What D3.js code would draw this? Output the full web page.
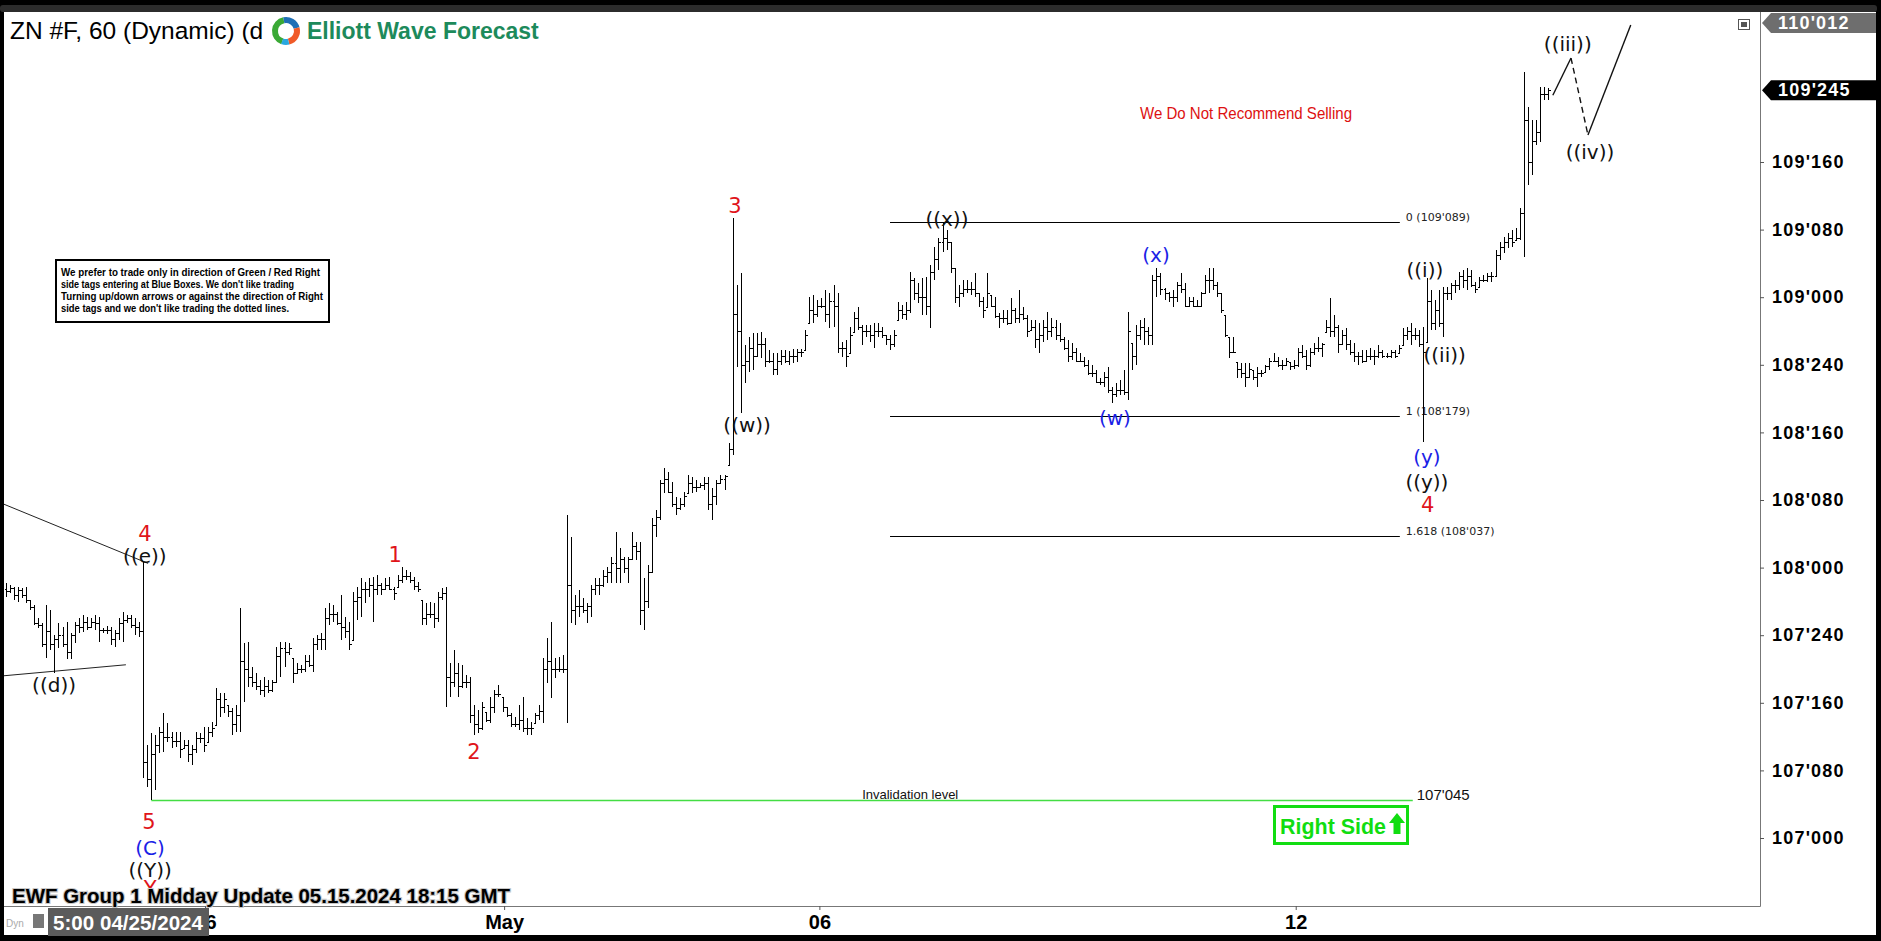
<!DOCTYPE html>
<html><head><meta charset="utf-8">
<script src="https://cdn.jsdelivr.net/npm/d3@7"></script>
<style>
html,body{margin:0;padding:0;background:#000;}
svg{display:block;}
</style></head><body>
<svg id="c" width="1881" height="941"></svg>
<script>
// Prices are in 32nds above 107'000 (e.g. 24.5 = 107'245, 72.9 = 109'089)
const highs = [30.2,29.9,29.7,29.7,29.6,29.7,28.2,27.6,26.0,25.4,27.6,27.0,24.0,25.4,25.0,25.6,24.3,25.6,26.0,26.4,26.2,26.0,26.4,26.2,24.9,25.1,25.0,24.6,26.0,26.7,26.4,26.4,26.0,25.6,32.7,11.0,12.4,12.2,13.1,14.8,13.6,12.5,12.5,12.5,11.6,11.6,11.0,12.5,12.4,13.1,13.1,13.7,17.8,17.2,17.2,15.7,15.4,15.7,27.2,23.1,23.2,20.2,19.5,18.7,19.1,18.7,18.7,22.6,23.2,23.2,23.1,21.3,20.7,20.5,21.7,21.7,23.7,24.0,24.3,27.2,27.8,27.6,26.7,28.8,26.2,25.6,29.1,29.7,30.8,30.3,30.8,30.9,31.1,30.2,30.8,30.9,29.7,31.1,32.1,31.7,31.5,30.9,30.3,28.2,27.8,27.9,27.8,29.1,29.6,29.7,20.7,22.2,20.7,20.5,19.3,19.1,15.7,15.1,16.1,14.9,16.7,17.5,18.1,16.7,15.5,14.8,14.3,15.7,16.7,14.2,13.7,14.8,15.7,21.3,23.7,25.6,21.3,21.4,21.7,38.2,35.6,28.8,29.3,28.4,27.8,29.9,30.8,30.8,31.7,32.1,33.3,36.2,34.3,33.3,33.3,36.2,35.0,35.0,30.8,32.3,37.9,38.8,42.4,43.8,43.3,42.1,40.4,40.2,40.9,43.0,42.7,42.4,42.0,42.7,42.7,41.4,42.4,43.0,43.0,46.7,73.4,65.4,66.9,58.3,59.3,59.8,59.8,59.9,59.2,57.8,57.4,57.4,57.8,57.8,57.6,57.9,57.9,57.9,60.1,64.0,64.3,63.7,63.9,64.9,64.5,65.4,64.5,58.7,58.9,60.5,62.2,62.8,60.7,60.7,60.7,60.9,60.9,60.5,59.5,59.5,60.1,63.4,63.1,63.4,67.0,66.3,65.7,66.3,66.4,67.8,69.9,71.0,72.9,72.0,70.5,67.5,65.4,66.0,66.0,65.8,66.9,64.5,64.0,66.9,64.3,64.0,62.1,62.5,62.5,63.9,62.7,64.9,62.8,61.9,61.3,61.3,60.9,61.3,62.2,61.5,61.3,60.9,59.3,58.9,58.6,58.0,57.4,56.9,56.6,56.0,55.4,54.4,55.1,55.7,53.4,53.8,54.2,55.4,62.2,58.6,60.7,61.3,61.5,60.5,66.6,67.5,66.9,65.1,64.6,64.9,65.8,66.9,65.7,64.0,64.0,63.7,64.6,66.6,67.5,67.5,65.8,64.5,61.9,59.3,59.3,56.3,56.2,56.2,56.2,55.4,55.7,55.4,56.0,56.8,57.4,56.9,56.6,56.8,56.3,56.6,58.0,58.3,57.8,58.0,58.6,59.3,58.6,61.3,63.9,61.9,60.7,60.1,60.4,58.9,58.6,57.5,57.8,57.8,58.0,57.8,58.3,57.8,57.4,57.8,57.8,58.3,60.4,60.5,60.9,60.4,60.1,60.5,66.3,64.9,63.7,64.9,65.2,65.2,65.7,66.0,67.0,67.2,67.5,67.2,65.8,66.4,66.6,66.9,67.0,69.6,70.5,71.1,71.6,72.0,72.2,74.6,90.7,86.5,85.0,85.0,88.9,88.9,88.8];
const lows = [28.5,29.0,28.2,27.9,28.4,27.8,27.0,25.2,24.9,22.6,21.3,22.2,19.5,22.5,22.6,21.2,21.2,23.1,24.3,24.4,24.6,24.9,24.6,23.2,24.3,24.1,22.8,22.6,23.4,23.2,25.4,24.9,24.0,23.8,7.1,6.0,4.5,5.7,10.1,10.2,11.4,10.7,10.8,9.5,10.7,9.0,8.6,10.1,11.2,10.2,11.4,12.0,13.4,14.3,14.8,14.3,12.2,12.5,12.5,16.1,17.9,17.9,17.5,16.9,16.7,17.2,17.3,18.3,19.1,20.2,21.7,18.3,19.5,19.5,19.6,20.2,19.6,22.2,22.2,22.2,25.2,25.6,25.2,23.4,23.7,22.2,23.4,25.8,26.2,27.8,28.5,25.6,28.8,28.8,29.3,29.3,28.2,29.7,30.2,30.5,30.2,29.3,29.1,25.2,25.2,26.0,24.9,25.6,28.2,15.5,16.7,17.9,16.7,17.8,17.8,13.6,12.2,12.4,12.8,13.7,13.6,14.8,16.7,14.9,14.3,13.1,13.1,12.8,12.5,12.2,12.2,13.6,14.0,13.6,18.3,16.6,18.9,19.6,19.5,13.6,25.4,25.2,26.2,26.6,25.4,26.2,28.8,28.8,29.7,30.2,30.2,30.2,30.2,31.4,30.2,32.9,32.9,25.2,24.6,27.2,31.4,35.6,37.6,40.8,40.8,39.2,38.2,38.8,39.2,40.8,40.8,40.9,41.4,41.2,38.8,37.6,39.4,42.0,41.2,44.1,45.3,55.7,50.3,53.8,55.1,55.4,56.9,56.8,55.7,56.2,54.8,54.8,56.0,56.2,56.0,56.2,56.3,56.9,57.8,60.9,60.9,61.7,62.7,61.1,60.4,60.5,57.4,56.9,55.7,57.4,59.9,60.1,58.3,59.3,58.7,58.0,59.3,59.2,58.3,57.8,58.1,61.3,61.4,61.3,62.1,63.7,63.3,61.9,61.9,60.4,66.0,67.2,69.3,69.6,66.9,63.3,62.8,64.0,64.5,64.3,64.0,62.8,61.5,62.8,62.8,61.5,60.4,60.9,60.7,60.9,60.9,60.9,61.3,59.3,60.1,58.0,57.4,58.7,58.9,59.3,58.9,58.7,57.8,56.3,56.6,56.3,56.3,55.7,54.8,54.6,53.8,53.6,53.4,52.7,51.5,52.2,52.4,52.4,51.8,55.4,56.0,58.9,58.3,58.3,58.3,64.0,64.3,63.7,63.4,62.8,63.4,64.5,62.8,62.8,62.8,62.8,62.8,64.5,64.5,64.9,64.0,62.1,59.3,56.8,57.5,54.4,54.4,53.4,54.4,54.2,53.4,54.6,55.1,55.4,56.3,55.7,55.4,56.0,55.4,55.5,55.7,56.8,55.4,55.7,57.2,57.5,56.9,59.9,59.3,59.3,57.4,58.3,57.8,57.2,56.3,56.0,56.2,56.3,56.6,56.0,56.8,56.8,56.8,56.8,56.8,57.4,58.3,58.9,58.3,58.9,58.1,46.9,58.7,60.1,60.1,60.5,59.3,63.7,63.7,64.5,64.9,65.1,64.9,65.2,64.5,65.2,65.8,65.8,65.8,66.4,68.4,69.2,69.8,69.9,70.8,70.8,68.8,77.3,78.5,82.0,82.4,87.3,87.3];
const opens = [29.5,29.2,29.6,28.8,29.3,28.7,28.2,27.3,25.5,25.2,23.0,24.5,23.0,23.5,24.0,23.0,22.0,24.0,25.2,25.0,25.6,25.0,25.6,25.4,24.6,24.6,24.6,23.5,24.3,25.5,25.8,26.0,25.2,25.0,24.5,9.0,7.0,10.0,11.0,12.5,12.0,12.0,11.5,11.5,10.7,11.0,10.0,10.5,11.8,11.8,11.4,12.5,13.4,16.5,15.5,15.7,15.0,13.5,14.5,21.0,20.0,19.0,18.5,18.0,17.5,18.0,17.5,18.5,21.5,22.5,22.0,21.3,19.5,20.0,20.0,21.0,20.5,23.0,23.5,23.5,26.0,26.5,26.5,25.5,25.0,24.5,23.4,28.0,28.5,29.5,29.5,30.0,29.5,30.0,29.5,30.0,29.5,29.7,30.5,31.0,31.0,30.5,29.8,28.2,26.0,26.5,26.5,26.0,28.5,29.0,19.0,18.5,19.5,18.0,18.5,18.5,14.5,13.5,13.0,14.9,14.0,15.5,17.0,16.7,15.5,14.5,13.5,13.5,14.0,13.0,13.0,13.6,14.5,15.0,20.0,21.0,20.0,20.0,20.0,20.0,30.0,27.0,27.5,27.5,27.0,27.5,29.5,30.0,30.0,31.0,31.5,32.5,32.0,33.0,32.0,33.0,34.5,34.0,27.0,28.0,31.5,37.0,38.0,42.0,42.5,41.0,39.5,39.0,39.5,40.8,42.0,41.5,41.5,41.8,42.0,39.5,40.5,42.0,42.5,44.1,46.0,62.0,60.0,56.0,56.5,58.0,57.0,58.5,58.5,56.5,56.5,55.5,56.5,57.0,56.5,57.0,57.0,57.5,57.8,60.9,62.5,62.0,63.0,63.0,62.0,63.5,63.0,58.0,58.0,57.4,59.9,61.5,60.5,60.0,60.0,59.5,60.0,60.0,59.5,59.0,58.5,61.3,62.5,62.0,62.5,66.0,64.5,64.0,64.0,63.0,67.0,68.5,70.5,71.0,70.5,67.5,64.0,64.5,65.0,65.0,65.0,64.5,63.5,62.8,64.3,63.0,61.8,61.5,61.5,61.0,62.5,61.5,62.0,61.5,60.1,60.5,59.0,59.5,60.5,60.0,60.5,59.5,59.0,58.0,57.0,57.5,56.5,56.5,56.0,55.0,55.0,54.0,54.0,54.5,53.0,52.5,53.0,53.0,52.8,58.6,57.0,59.5,60.5,60.0,59.5,66.0,66.5,65.0,64.5,64.0,64.0,65.5,65.0,63.0,63.5,63.0,63.0,64.5,66.0,66.0,65.5,64.5,61.9,59.3,57.5,56.3,55.5,55.0,54.5,55.4,54.5,55.0,55.1,55.8,56.5,56.5,56.0,56.0,56.3,55.8,56.0,57.5,57.0,56.0,57.5,58.0,58.0,59.9,60.5,60.0,60.5,58.5,59.5,58.5,57.5,57.0,57.0,56.5,57.0,57.0,57.0,57.5,57.0,57.0,57.5,57.4,58.3,59.5,60.0,59.5,59.5,58.5,58.7,63.5,61.0,62.5,61.0,64.5,64.5,65.5,65.5,66.5,66.0,66.5,65.5,65.2,66.0,66.0,66.5,66.5,69.0,70.0,70.5,71.0,70.8,71.0,74.0,85.0,80.0,82.5,83.5,88.0,88.0];
const closes = [29.2,29.6,28.8,29.3,28.7,28.2,27.3,25.5,25.2,23.0,24.5,23.0,23.5,24.0,23.0,22.0,24.0,25.2,25.0,25.6,25.0,25.6,25.4,24.6,24.6,24.6,23.5,24.3,25.5,25.8,26.0,25.2,25.0,24.5,9.0,7.0,10.0,11.0,12.5,12.0,12.0,11.5,11.5,10.5,11.0,10.0,10.5,11.8,11.8,11.0,12.5,13.0,16.5,15.5,16.5,15.0,13.5,14.5,21.0,20.0,19.0,18.5,18.0,17.5,18.0,17.5,18.5,21.5,22.5,22.0,22.5,19.5,20.0,20.0,21.0,20.5,23.0,23.5,23.5,26.0,26.5,26.5,25.5,25.0,24.5,23.0,28.0,28.5,29.5,29.5,30.0,29.5,30.0,29.5,30.0,29.5,29.0,30.5,31.0,31.0,30.5,29.8,29.5,26.0,26.5,26.5,26.0,28.5,29.0,19.0,18.5,19.5,18.0,18.5,18.5,14.5,13.5,13.0,15.5,14.0,15.5,17.0,17.0,15.5,14.5,13.5,13.5,14.0,13.0,13.0,13.0,14.5,15.0,20.0,21.0,20.0,20.0,20.0,20.0,30.0,27.0,27.5,27.5,27.0,27.5,29.5,30.0,30.0,31.0,31.5,32.5,32.0,33.0,32.0,33.0,34.5,34.0,27.0,28.0,31.5,37.0,38.0,42.0,42.5,41.0,39.5,39.0,39.5,40.5,42.0,41.5,41.5,41.8,42.0,39.5,40.5,42.0,42.5,42.8,46.0,62.0,60.0,56.0,56.5,58.0,57.0,58.5,58.5,56.5,56.5,55.5,56.5,57.0,56.5,57.0,57.0,57.5,57.5,59.5,62.5,62.0,63.0,63.0,62.0,63.5,63.0,58.0,58.0,57.0,59.5,61.5,60.5,60.0,60.0,59.5,60.0,60.0,59.5,59.0,58.5,59.5,62.5,62.0,62.5,66.0,64.5,64.0,64.0,63.0,67.0,68.5,70.5,71.0,70.5,67.5,64.0,64.5,65.0,65.0,65.0,64.5,63.5,62.5,64.5,63.0,61.8,61.5,61.5,61.0,62.5,61.5,62.0,61.5,60.0,60.5,59.0,59.5,60.5,60.0,60.5,59.5,59.0,58.0,57.0,57.5,56.5,56.5,56.0,55.0,55.0,54.0,54.0,54.5,53.0,52.5,53.0,53.0,52.8,60.0,57.0,59.5,60.5,60.0,59.5,66.0,66.5,65.0,64.5,64.0,64.0,65.5,65.0,63.0,63.5,63.0,63.0,64.5,66.0,66.0,65.5,64.5,62.5,59.5,57.5,57.5,55.5,55.0,54.5,55.5,54.5,55.0,55.0,55.8,56.5,56.5,56.0,56.0,56.5,55.8,56.0,57.5,57.0,56.0,57.5,58.0,58.0,58.5,60.5,60.0,60.5,58.5,59.5,58.5,57.5,57.0,57.0,56.5,57.0,57.0,57.0,57.5,57.0,57.0,57.5,57.0,58.0,59.5,60.0,59.5,59.5,58.5,57.5,63.5,61.0,62.5,61.0,64.5,64.5,65.5,65.5,66.5,66.0,66.5,65.5,65.0,66.0,66.0,66.5,66.5,69.0,70.0,70.5,71.0,70.5,71.0,74.0,85.0,80.0,82.5,83.5,88.0,88.0,88.5];

const priceTicks = [0,8,16,24,32,40,48,56,64,72,80];
const priceTickLabels = ["107'000","107'080","107'160","107'240","108'000","108'080","108'160","108'240","109'000","109'080","109'160"];
const timeTickBars = [49.3,123.4,201.5,319.5];
const timeTickLabels = ["26","May","06","12"];

const fibLevels = [72.9, 49.9, 35.7];
const fibLabels = ["0 (109'089)","1 (108'179)","1.618 (108'037)"];
const fibSpan = [219, 345.3];

const invalidationPrice = 4.5;
const invalidationSpan = [36, 348.5];
const invalidationLabel = "107'045";

const markerPrices = [97.25, 88.5];
const markerLabels = ["110'012","109'245"];

const waveText  = ["4","((e))","((d))","5","(C)","((Y))","Y","1","2","3","((w))","((x))","(w)","(x)","((i))","((ii))","(y)","((y))","4","((iii))","((iv))"];
const waveBar   = [34.4,34.4,11.9,35.4,35.7,35.7,35.7,96.4,115.9,180.6,183.6,233.1,274.7,284.9,351.5,356.4,352,352,352.2,386.9,392.4];
const wavePrice = [36.0,33.4,18.1,1.9,-1.2,-3.8,-6.0,33.5,10.2,74.8,48.9,73.3,49.7,69.0,67.2,57.2,45.1,42.1,39.4,94.0,81.2];
const waveKind  = ["r","k","k","r","b","k","r","r","r","r","k","k","b","b","k","k","b","k","r","k","k"];

const projBars = [383.2,387.7,391.9,402.5];
const projPrices = [87.9,92.3,83.2,96.2];
const triUpperBars = [-0.5,35.2], triUpperPrices = [39.5,32.5];
const triLowerBars = [-0.5,29.7], triLowerPrices = [19.2,20.5];

const W = 1881, H = 941;
const svg = d3.select('#c');
const N = highs.length;
const x = d3.scaleLinear().domain([0, N-1]).range([6, 1548]);
const y = d3.scaleLinear().domain([0, 80]).range([838, 162]);

// frame
svg.append('rect').attr('width',W).attr('height',H).attr('fill','#000');
svg.append('rect').attr('x',4).attr('y',12).attr('width',1872).attr('height',923).attr('fill','#fff');
svg.append('rect').attr('x',0).attr('y',5).attr('width',W-4).attr('height',7).attr('rx',3).attr('fill','#2c2c2c');

svg.append('defs').append('clipPath').attr('id','plot')
  .append('rect').attr('x',4).attr('y',12).attr('width',1756).attr('height',894);

const plot = svg.append('g').attr('clip-path','url(#plot)');

// triangle lines
const ln = d3.line().x(d=>x(d[0])).y(d=>y(d[1]));
plot.append('path').attr('d', ln(d3.zip(triUpperBars, triUpperPrices))).attr('stroke','#222').attr('fill','none');
plot.append('path').attr('d', ln(d3.zip(triLowerBars, triLowerPrices))).attr('stroke','#222').attr('fill','none');

// fib lines
fibLevels.forEach((v,i)=>{
  const yy = Math.round(y(v))+0.5;
  plot.append('line').attr('x1',x(fibSpan[0])).attr('x2',x(fibSpan[1])).attr('y1',yy).attr('y2',yy).attr('stroke','#000');
  plot.append('text').attr('x',x(fibSpan[1])+6).attr('y',yy-5).attr('dominant-baseline','central')
    .attr('font-family','DejaVu Sans, Verdana, sans-serif').attr('font-size',11).attr('fill','#222').text(fibLabels[i]);
});

// invalidation
{
  const yy = Math.round(y(invalidationPrice))+0.5;
  plot.append('line').attr('x1',x(invalidationSpan[0])).attr('x2',x(invalidationSpan[1])).attr('y1',yy).attr('y2',yy)
    .attr('stroke','#44dd44').attr('stroke-width',1.6);
  plot.append('text').attr('x',x(224)).attr('y',yy-2).attr('text-anchor','middle')
    .attr('font-family','Liberation Sans, Arial, sans-serif').attr('font-size',13).attr('fill','#111').text('Invalidation level');
  plot.append('text').attr('x',x(invalidationSpan[1])+4).attr('y',yy-1)
    .attr('font-family','Liberation Sans, Arial, sans-serif').attr('font-size',15).attr('fill','#111').text(invalidationLabel);
}

// OHLC bars
const barPath = d3.range(N).map(i=>{
  const xx = Math.round(x(i))+0.5;
  const yh = Math.round(y(highs[i])), yl = Math.round(y(lows[i]));
  const yo = Math.round(y(opens[i]))+0.5, yc = Math.round(y(closes[i]))+0.5;
  return `M${xx},${yh}V${Math.max(yl, yh+1)}M${xx-2},${yo}H${xx}M${xx},${yc}H${xx+2}`;
}).join('');
plot.append('path').attr('d',barPath).attr('stroke','#000').attr('stroke-width',1).attr('fill','none').attr('shape-rendering','crispEdges');

// projection
const pts = d3.zip(projBars, projPrices);
plot.append('path').attr('d', ln(pts.slice(0,2))).attr('stroke','#111').attr('stroke-width',1.4).attr('fill','none');
plot.append('path').attr('d', ln(pts.slice(1,3))).attr('stroke','#111').attr('stroke-width',1.4).attr('stroke-dasharray','6,4').attr('fill','none');
plot.append('path').attr('d', ln(pts.slice(2,4))).attr('stroke','#111').attr('stroke-width',1.4).attr('fill','none');

// wave labels
const colors = {r:'#e0141a', k:'#111', b:'#1a22e6'};
waveText.forEach((t,i)=>{
  plot.append('text').attr('x',x(waveBar[i])).attr('y',y(wavePrice[i]))
    .attr('text-anchor','middle').attr('dominant-baseline','central')
    .attr('font-family','DejaVu Sans, Verdana, sans-serif').attr('font-size', waveKind[i]==='r' ? 21 : 20)
    .attr('fill',colors[waveKind[i]]).text(t);
});

// plot borders
svg.append('line').attr('x1',4).attr('x2',1760.5).attr('y1',906.5).attr('y2',906.5).attr('stroke','#777');
svg.append('line').attr('x1',1760.5).attr('x2',1760.5).attr('y1',12).attr('y2',906.5).attr('stroke','#777');

// price axis
const ya = svg.append('g').attr('transform','translate(1760,0)')
  .call(d3.axisRight(y).tickValues(priceTicks).tickFormat((d,i)=>priceTickLabels[i]).tickSize(4).tickPadding(8));
ya.select('.domain').remove();
ya.selectAll('line').attr('stroke','#555');
ya.selectAll('text').attr('font-family','Liberation Sans, Arial, sans-serif').attr('font-weight','bold')
  .attr('font-size',18).attr('letter-spacing',1.2).attr('fill','#000');

// time axis
const xa = svg.append('g').attr('transform','translate(0,906)')
  .call(d3.axisBottom(x).tickValues(timeTickBars).tickFormat((d,i)=>timeTickLabels[i]).tickSize(4).tickPadding(5));
xa.select('.domain').remove();
xa.selectAll('line').attr('stroke','#555');
xa.selectAll('text').attr('font-family','Liberation Sans, Arial, sans-serif').attr('font-weight','bold')
  .attr('font-size',20).attr('fill','#000');

// price marker flags
markerPrices.forEach((v,i)=>{
  const cy = Math.max(y(v), 23);
  const g = svg.append('g');
  g.append('path').attr('d',`M1762,${cy} L1771,${cy-10} L1876,${cy-10} L1876,${cy+10} L1771,${cy+10} Z`)
    .attr('fill', i===0 ? '#6e6e6e' : '#000');
  g.append('text').attr('x',1778).attr('y',cy).attr('dominant-baseline','central')
    .attr('font-family','Liberation Sans, Arial, sans-serif').attr('font-weight','bold').attr('font-size',18)
    .attr('letter-spacing',1.2).attr('fill','#fff').text(markerLabels[i]);
});

// small window icon
svg.append('rect').attr('x',1738.5).attr('y',19.5).attr('width',11).attr('height',10).attr('fill','#fff').attr('stroke','#555');
svg.append('rect').attr('x',1741).attr('y',22).attr('width',6).attr('height',5).attr('fill','#555');

// title
svg.append('text').attr('x',10).attr('y',39).attr('font-family','Liberation Sans, Arial, sans-serif')
  .attr('font-size',24.5).attr('fill','#000').text('ZN #F, 60 (Dynamic) (d');
svg.append('rect').attr('x',266).attr('y',14).attr('width',38).attr('height',34).attr('fill','#fff');
// logo
const arc = d3.arc().innerRadius(8).outerRadius(14);
const lg = svg.append('g').attr('transform','translate(286,31)');
[[ -2.8,-0.2,'#3aa935'],[-0.2,1.3,'#1f6fb5'],[1.3,2.9,'#f05a28'],[2.9,3.5,'#29a8e0']].forEach(a=>{
  lg.append('path').attr('d',arc({startAngle:a[0],endAngle:a[1]})).attr('fill',a[2]);
});
svg.append('text').attr('x',307).attr('y',39).attr('font-family','Liberation Sans, Arial, sans-serif')
  .attr('font-weight','bold').attr('font-size',23).attr('fill','#1d8a5b').text('Elliott Wave Forecast');

// warning text
svg.append('text').attr('x',1246).attr('y',119).attr('text-anchor','middle')
  .attr('font-family','Liberation Sans Narrow, Liberation Sans, Arial, sans-serif').attr('font-size',17)
  .attr('textLength',212).attr('lengthAdjust','spacingAndGlyphs').attr('fill','#dd1111').text('We Do Not Recommend Selling');

// info box
svg.append('rect').attr('x',56).attr('y',260).attr('width',273).attr('height',62).attr('fill','#fff').attr('stroke','#000').attr('stroke-width',2);
const infoLines = ["We prefer to trade only in direction of Green / Red Right","side tags entering at Blue Boxes. We don't like trading","Turning up/down arrows or against the direction of Right","side tags and we don't like trading the dotted lines."];
const infoW = [259,233,262,228];
infoLines.forEach((t,i)=>{
  svg.append('text').attr('x',61).attr('y',275.5+i*12.2).attr('font-family','Liberation Sans, Arial, sans-serif')
    .attr('font-weight','bold').attr('font-size',11.5).attr('textLength',infoW[i]).attr('lengthAdjust','spacingAndGlyphs')
    .attr('fill','#000').text(t);
});

// Right Side box
svg.append('rect').attr('x',1274.5).attr('y',806.5).attr('width',133).attr('height',37).attr('fill','#fff')
  .attr('stroke','#11dd11').attr('stroke-width',3);
svg.append('text').attr('x',1280).attr('y',834).attr('font-family','Liberation Sans, Arial, sans-serif')
  .attr('font-weight','bold').attr('font-size',21.5).attr('textLength',106).attr('lengthAdjust','spacingAndGlyphs')
  .attr('fill','#11dd11').text('Right Side');
svg.append('path').attr('d','M1397,813 L1405,823 L1400.5,823 L1400.5,834 L1393.5,834 L1393.5,823 L1389,823 Z').attr('fill','#11dd11');

// bottom text
svg.append('text').attr('x',12).attr('y',903).attr('font-family','Liberation Sans, Arial, sans-serif')
  .attr('font-weight','bold').attr('font-size',20).attr('fill','#000')
  .attr('stroke','#c8c8c8').attr('stroke-width',2.2).attr('paint-order','stroke')
  .attr('textLength',498).attr('lengthAdjust','spacingAndGlyphs')
  .text('EWF Group 1 Midday Update 05.15.2024 18:15 GMT');

// bottom-left status
svg.append('text').attr('x',6).attr('y',927).attr('font-family','Liberation Sans, Arial, sans-serif')
  .attr('font-size',10).attr('fill','#aaa').text('Dyn');
svg.append('rect').attr('x',33).attr('y',914).attr('width',11).attr('height',14).attr('fill','#777');
svg.append('rect').attr('x',48).attr('y',908).attr('width',161).attr('height',28).attr('fill','#5b5b5b');
svg.append('text').attr('x',53).attr('y',930).attr('font-family','Liberation Sans, Arial, sans-serif')
  .attr('font-weight','bold').attr('font-size',20).attr('textLength',150).attr('lengthAdjust','spacingAndGlyphs')
  .attr('fill','#fff').text('5:00 04/25/2024');
</script>
</body></html>
